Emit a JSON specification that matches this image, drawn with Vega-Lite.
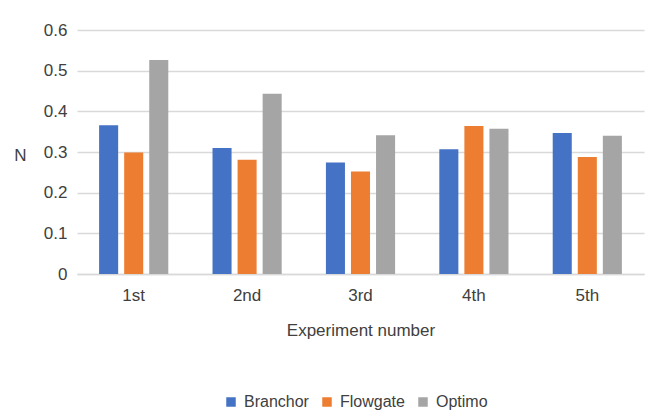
{
  "$schema": "https://vega.github.io/schema/vega-lite/v6.json",
  "autosize": "none",
  "width": 567,
  "height": 244,
  "padding": {"left": 77, "top": 30, "right": 6, "bottom": 144},
  "background": "white",
  "data": {
    "values": [
      {"exp": "1st", "series": "Branchor", "value": 0.366},
      {"exp": "1st", "series": "Flowgate", "value": 0.299},
      {"exp": "1st", "series": "Optimo", "value": 0.526},
      {"exp": "2nd", "series": "Branchor", "value": 0.310},
      {"exp": "2nd", "series": "Flowgate", "value": 0.281},
      {"exp": "2nd", "series": "Optimo", "value": 0.443},
      {"exp": "3rd", "series": "Branchor", "value": 0.274},
      {"exp": "3rd", "series": "Flowgate", "value": 0.252},
      {"exp": "3rd", "series": "Optimo", "value": 0.341},
      {"exp": "4th", "series": "Branchor", "value": 0.307},
      {"exp": "4th", "series": "Flowgate", "value": 0.364},
      {"exp": "4th", "series": "Optimo", "value": 0.357},
      {"exp": "5th", "series": "Branchor", "value": 0.347},
      {"exp": "5th", "series": "Flowgate", "value": 0.288},
      {"exp": "5th", "series": "Optimo", "value": 0.340}
    ]
  },
  "mark": {"type": "bar"},
  "encoding": {
    "x": {
      "field": "exp",
      "type": "nominal",
      "sort": null,
      "scale": {"paddingInner": 0.39, "paddingOuter": 0.195},
      "axis": {
        "title": "Experiment number",
        "labelAngle": 0,
        "labelFontSize": 17,
        "labelPadding": 13,
        "titleFontSize": 17,
        "titleFontWeight": "normal",
        "titlePadding": 19,
        "ticks": false,
        "domainColor": "#d9d9d9",
        "domainWidth": 1.5
      }
    },
    "xOffset": {
      "field": "series",
      "type": "nominal",
      "scale": {"paddingInner": 0.24, "paddingOuter": 0}
    },
    "y": {
      "field": "value",
      "type": "quantitative",
      "scale": {"domain": [0, 0.6]},
      "axis": {
        "title": "N",
        "titleAngle": 0,
        "titleX": -57,
        "titleY": 125,
        "titleAlign": "center",
        "titleBaseline": "middle",
        "titleFontSize": 17,
        "titleFontWeight": "normal",
        "values": [0, 0.1, 0.2, 0.3, 0.4, 0.5, 0.6],
        "format": "~g",
        "labelFontSize": 17,
        "labelPadding": 10,
        "ticks": false,
        "domain": false,
        "gridColor": "#d9d9d9",
        "gridWidth": 1.5
      }
    },
    "color": {
      "field": "series",
      "type": "nominal",
      "scale": {
        "domain": ["Branchor", "Flowgate", "Optimo"],
        "range": ["#4472C4", "#ED7D31", "#A5A5A5"]
      },
      "legend": {
        "title": null,
        "orient": "none",
        "direction": "horizontal",
        "legendX": 146,
        "legendY": 364,
        "symbolType": "square",
        "symbolSize": 90,
        "symbolStrokeWidth": 0,
        "labelFontSize": 16,
        "labelOffset": 5,
        "columnPadding": 10
      }
    }
  },
  "config": {
    "font": "Liberation Sans",
    "view": {"stroke": null},
    "axis": {"labelColor": "#404040", "titleColor": "#404040"},
    "legend": {"labelColor": "#404040"}
  }
}
